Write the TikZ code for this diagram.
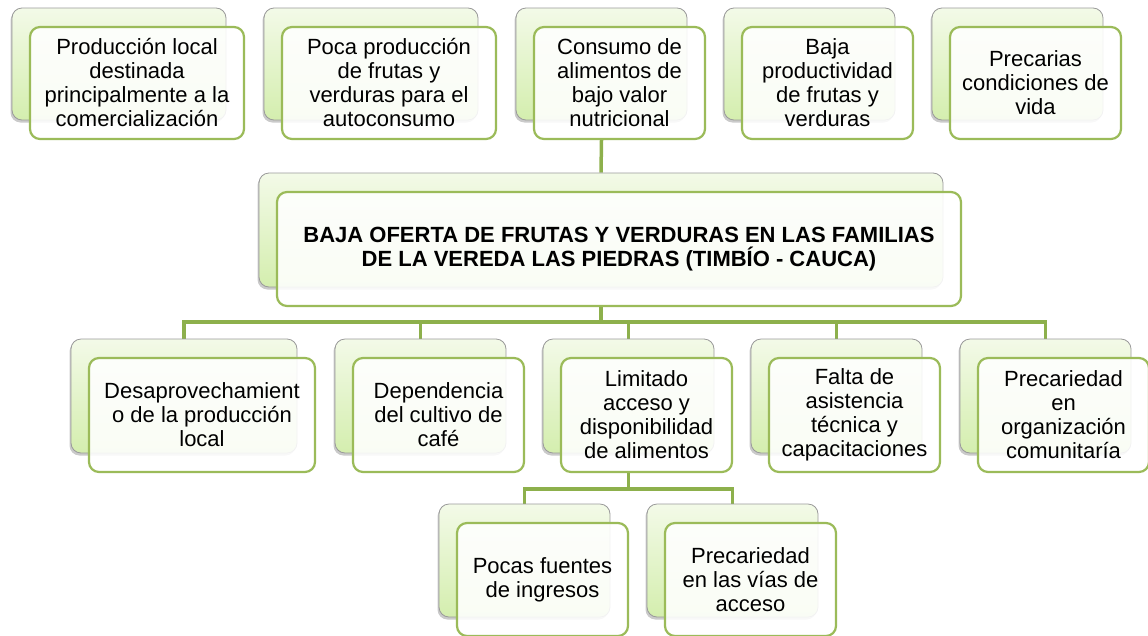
\documentclass[tikz,border=0pt]{standalone}
\usepackage{fontspec}
\setmainfont{Liberation Sans}
\usetikzlibrary{shadows}
\pgfdeclarelayer{bg}
\pgfsetlayers{bg,main}
\definecolor{fgreen}{HTML}{9BBB59}
\definecolor{cgreen}{HTML}{8DB04C}
\definecolor{gtop}{HTML}{F3FAE8}
\definecolor{gbot}{HTML}{D4EEAE}
\definecolor{bgrey}{HTML}{9A9A9A}
\tikzset{
 backbox/.style={draw=bgrey, line width=0.8pt, rounded corners=10pt, top color=gtop, bottom color=gbot, inner sep=0pt,
   drop shadow={shadow xshift=-1.5pt, shadow yshift=-2.5pt, opacity=0.35, fill=black!60}},
 frontbox/.style={draw=fgreen, line width=2.2pt, rounded corners=10pt, fill=white, fill opacity=0.88, text opacity=1,
   inner sep=0pt, align=center, font=\fontsize{22}{24}\selectfont},
 titlebox/.style={frontbox, font=\fontsize{22}{24}\selectfont\bfseries},
 conn/.style={draw=cgreen, line width=3.5pt},
}
% name, cx, cy, w, h, text, front style
\newcommand\pairbox[7]{%
 \node[backbox, minimum width=#4pt, minimum height=#5pt] (#1b) at (#2,#3) {};
 \node[#7, minimum width=#4pt, minimum height=#5pt] (#1f) at (#2+18,#3+19) {#6};}
\begin{document}
\begin{tikzpicture}[x=1pt,y=-1pt]
\useasboundingbox (0,0) rectangle (1148,635);
% top row
\pairbox{t1}{119}{64}{214}{112}{Producción local\\destinada\\principalmente a la\\comercialización}{frontbox}
\pairbox{t2}{371}{64}{214}{112}{Poca producción\\de frutas y\\verduras para el\\autoconsumo}{frontbox}
\pairbox{t3}{601.5}{64}{171}{112}{Consumo de\\alimentos de\\bajo valor\\nutricional}{frontbox}
\pairbox{t4}{809.5}{64}{171}{112}{Baja\\productividad\\de frutas y\\verduras}{frontbox}
\pairbox{t5}{1017.5}{64}{171}{112}{Precarias\\condiciones de\\vida}{frontbox}
% central
\pairbox{c}{601}{230}{684}{114}{BAJA OFERTA DE FRUTAS Y VERDURAS EN LAS FAMILIAS\\DE LA VEREDA LAS PIEDRAS (TIMBÍO - CAUCA)}{titlebox}
% second row
\pairbox{b1}{184}{396}{226}{114}{Desaprovechamient\\o de la producción\\local}{frontbox}
\pairbox{b2}{420.5}{396}{171}{114}{Dependencia\\del cultivo de\\café}{frontbox}
\pairbox{b3}{628.5}{396}{171}{114}{Limitado\\acceso y\\disponibilidad\\de alimentos}{frontbox}
\pairbox{b4}{836.5}{396}{171}{114}{Falta de\\asistencia\\técnica y\\capacitaciones}{frontbox}
\pairbox{b5}{1045.5}{396}{171}{114}{Precariedad\\en\\organización\\comunitaría}{frontbox}
% third row
\pairbox{d1}{524.5}{560.5}{171}{113}{Pocas fuentes\\de ingresos}{frontbox}
\pairbox{d2}{732.5}{560.5}{171}{113}{Precariedad\\en las vías de\\acceso}{frontbox}
% connectors
\begin{pgfonlayer}{bg}
\draw[conn] (t3b.south |- t3f.south) -- (cb.north);
\coordinate (h1) at (601,322);
\coordinate (h2) at (628.5,489);
\foreach \n in {b1,b2,b3,b4,b5}{
  \draw[conn] (cb.south |- cf.south) -- (h1) -| (\n b.north);
}
\foreach \n in {d1,d2}{
  \draw[conn] (b3b.south |- b3f.south) -- (h2) -| (\n b.north);
}
\end{pgfonlayer}
\end{tikzpicture}
\end{document}
